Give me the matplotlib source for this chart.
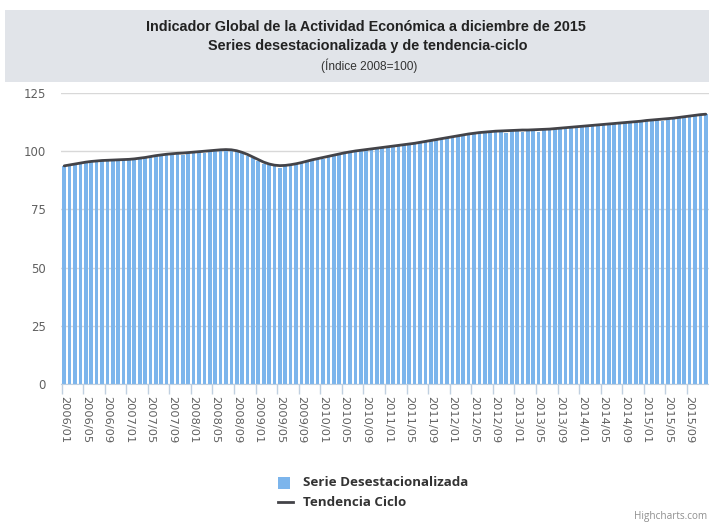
import matplotlib
matplotlib.use("Agg")
import matplotlib.pyplot as plt
from matplotlib.patches import Rectangle
from matplotlib.lines import Line2D
import numpy as np

years = list(range(2006, 2016))
months = [f"{y}/{m:02d}" for y in years for m in range(1, 13)]

serie_desest = [
    93.5, 94.0, 94.2, 94.9, 95.0, 95.4, 95.7, 95.8, 95.9, 96.1, 96.0, 96.3,
    96.2, 96.6, 96.8, 97.1, 97.6, 97.9, 98.3, 98.5, 98.8, 99.0, 98.5, 99.3,
    99.6, 99.5, 99.2, 100.3, 100.3, 100.6, 100.8, 100.5, 100.1, 99.2, 98.1, 97.2,
    95.6, 94.6, 94.1, 93.6, 92.8, 93.7, 94.1, 94.5, 94.9, 95.6, 96.2, 96.7,
    96.5, 97.6, 98.3, 98.2, 99.2, 99.6, 100.0, 100.3, 100.6, 100.8, 101.2, 101.5,
    101.8, 102.0, 102.4, 102.7, 102.9, 103.2, 103.7, 104.1, 104.5, 104.8, 105.2, 105.6,
    106.1, 106.4, 106.9, 107.2, 107.6, 107.9, 108.1, 108.3, 108.5, 108.6, 108.0, 108.8,
    109.0, 108.3, 109.0, 109.1, 108.2, 109.2, 109.4, 109.6, 109.8, 110.0, 110.2, 110.4,
    110.6, 110.7, 111.0, 111.1, 111.4, 111.6, 111.8, 112.0, 112.2, 112.4, 112.6, 112.8,
    113.0, 113.3, 113.4, 112.8, 113.9, 114.1, 114.4, 114.7, 115.0, 115.3, 115.6, 115.8,
]

tendencia_ciclo = [
    93.7, 94.1, 94.5, 94.9, 95.3, 95.6, 95.8, 96.0, 96.1, 96.2, 96.3, 96.4,
    96.5, 96.7, 97.0, 97.3, 97.7, 98.1, 98.4, 98.7, 98.9, 99.1, 99.2, 99.4,
    99.6, 99.8, 100.0, 100.2, 100.4, 100.6, 100.7, 100.6, 100.2, 99.5, 98.6, 97.5,
    96.4, 95.3, 94.5, 94.0, 93.8, 93.9, 94.2, 94.6, 95.1, 95.7, 96.3, 96.8,
    97.3, 97.8, 98.3, 98.8, 99.3, 99.7, 100.1, 100.4, 100.7, 101.0, 101.3, 101.6,
    101.9, 102.2, 102.5, 102.8, 103.1, 103.4, 103.8, 104.2, 104.6, 105.0, 105.4, 105.8,
    106.2, 106.6, 107.0, 107.4, 107.7, 108.0, 108.2, 108.4, 108.6, 108.7, 108.8, 108.9,
    109.0, 109.1, 109.1, 109.2, 109.3, 109.4, 109.5, 109.7, 109.9, 110.1, 110.3, 110.5,
    110.7, 110.9, 111.1, 111.3, 111.5, 111.7, 111.9, 112.1, 112.3, 112.5, 112.7, 112.9,
    113.2, 113.4, 113.6, 113.8, 114.0, 114.2, 114.5, 114.8, 115.1, 115.4, 115.7, 115.9,
]

y_ticks = [0, 25, 50, 75, 100, 125]
title1 = "Indicador Global de la Actividad Económica a diciembre de 2015"
title2 = "Series desestacionalizada y de tendencia-ciclo"
title3 = "(Índice 2008=100)"
legend_labels = ["Serie Desestacionalizada", "Tendencia Ciclo"]

W, H = 709, 524
fig = plt.figure(figsize=(W / 100, H / 100), dpi=100)
fig.patch.set_facecolor("white")

def fx(px):
    return px / W

def fy(py):
    return 1 - py / H

# header band
fig.add_artist(Rectangle((fx(5), fy(82)), fx(704), (82 - 10) / H,
                         transform=fig.transFigure, facecolor="#e1e4e9",
                         edgecolor="none", zorder=0))
tfam = ["Liberation Sans", "DejaVu Sans"]
fig.text(fx(366), fy(27), title1, ha="center", va="center", fontsize=10.4,
         fontweight="bold", family=tfam, color="#222222")
fig.text(fx(368), fy(46), title2, ha="center", va="center", fontsize=10.4,
         fontweight="bold", family=tfam, color="#222222")
fig.text(fx(369), fy(66), title3, ha="center", va="center", fontsize=8.6,
         family=tfam, color="#333333")

ax = fig.add_axes([fx(61), fy(384), fx(709) - fx(61), (384 - 93) / H])
x = np.arange(len(months))
ax.bar(x, serie_desest, width=0.68, color="#7cb5ec", zorder=2)
ax.plot(x, tendencia_ciclo, color="#434348", lw=2.0, zorder=3,
        solid_capstyle="round")

ax.set_xlim(-0.6, len(months) - 0.4)
ax.set_ylim(0, 125)
ax.set_yticks(y_ticks)
ax.set_yticklabels([str(v) for v in y_ticks])
ax.grid(axis="y", color="#d8d8d8", lw=1, zorder=0)
ax.set_axisbelow(True)
for s in ["top", "right", "left"]:
    ax.spines[s].set_visible(False)
ax.spines["bottom"].set_color("#c0d0e0")
ax.spines["bottom"].set_zorder(4)
ax.tick_params(axis="y", length=0, pad=11, labelsize=8.5, labelcolor="#606060")

major = x[::4]
ax.set_xticks(major)
ax.set_xticklabels([months[i] for i in major], rotation=-90, fontsize=8.2,
                   color="#606060")
ax.set_xticks(major - 0.5, minor=True)
ax.tick_params(axis="x", which="major", length=0, pad=9)
ax.tick_params(axis="x", which="minor", length=7, color="#c0d0e0", width=1)
for lbl in ax.get_xticklabels():
    lbl.set_va("top")
    lbl.set_ha("center")

# legend
lfam = ["Open Sans", "DejaVu Sans"]
fig.add_artist(Rectangle((fx(278), fy(489)), fx(12), 12 / H,
                         transform=fig.transFigure, facecolor="#7cb5ec",
                         edgecolor="none"))
fig.add_artist(Line2D([fx(278), fx(293)], [fy(502), fy(502)],
                      transform=fig.transFigure, color="#434348", lw=2))
fig.text(fx(303), fy(482), legend_labels[0], ha="left", va="center",
         fontsize=9.6, fontweight="bold", family=lfam, color="#333333")
fig.text(fx(303), fy(502), legend_labels[1], ha="left", va="center",
         fontsize=9.6, fontweight="bold", family=lfam, color="#333333")

fig.text(fx(707), fy(517), "Highcharts.com", ha="right", va="center",
         fontsize=7.2, family=lfam, color="#909090")

fig.savefig("out.png", dpi=100)
